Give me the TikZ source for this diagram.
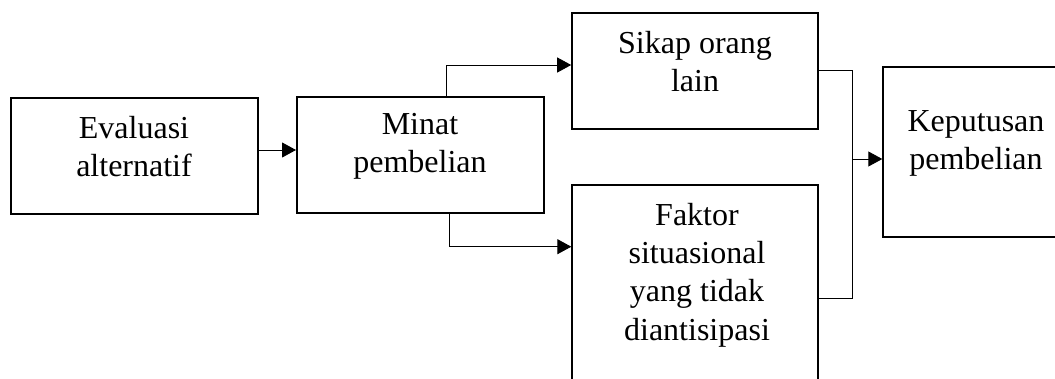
\documentclass[tikz,border=0pt]{standalone}
\usepackage{fontspec}
\setmainfont{Liberation Serif}
\usetikzlibrary{arrows.meta}
\tikzset{
  box/.style={draw=black, line width=2pt, rectangle, inner sep=0pt, fill=none},
  txt/.style={align=center, inner sep=0pt, font=\fontsize{32}{38.3}\selectfont},
  conn/.style={draw=black, line width=0.9pt},
  arr/.style={conn, -{Triangle[length=14pt,width=15pt]}}
}
\begin{document}
\begin{tikzpicture}[x=1pt,y=-1pt]
\useasboundingbox (0,0) rectangle (1055,378);
\clip (0,0) rectangle (1055,378);
% boxes
\node[box, minimum width=247.3pt, minimum height=116.5pt] (eval) at (134.15,156.05) {};
\node[box, minimum width=247.3pt, minimum height=115.8pt] (minat) at (420.65,154.9) {};
\node[box, minimum width=246.1pt, minimum height=116.1pt] (sikap) at (695.25,70.75) {};
\node[box, minimum width=246pt, minimum height=215.3pt] (faktor) at (695.3,292.35) {};
\node[box, minimum width=185.7pt, minimum height=170pt] (kep) at (976.15,151.7) {};
% texts
\node[txt] (evalt) at (134,146.7) {Evaluasi\\alternatif};
\node[txt] (minatt) at (420,146.65) {Minat\\pembelian};
\node[txt] (sikapt) at (695,61.5) {Sikap orang\\lain};
\node[txt] (faktort) at (697,275) {Faktor\\situasional\\yang tidak\\diantisipasi};
\node[txt] (kept) at (976,143.7) {Keputusan\\pembelian};
% connector coordinates
\coordinate (up) at (446.7,65);
\coordinate (dn) at (449,246.7);
\coordinate (jt) at (852,70.7);
\coordinate (jb) at (852,298);
\coordinate (jm) at (852,159);
% connectors
\draw[arr] (eval.east |- 0,150) -- (minat.west |- 0,150);
\draw[arr] (minat.north -| up) -- (up) -- (sikap.west |- up);
\draw[arr] (minat.south -| dn) -- (dn) -- (faktor.west |- dn);
\draw[conn] (sikap.east |- jt) -- (jt) -- (jb) -- (faktor.east |- jb);
\draw[arr] (jm) -- (kep.west |- jm);
\end{tikzpicture}
\end{document}
